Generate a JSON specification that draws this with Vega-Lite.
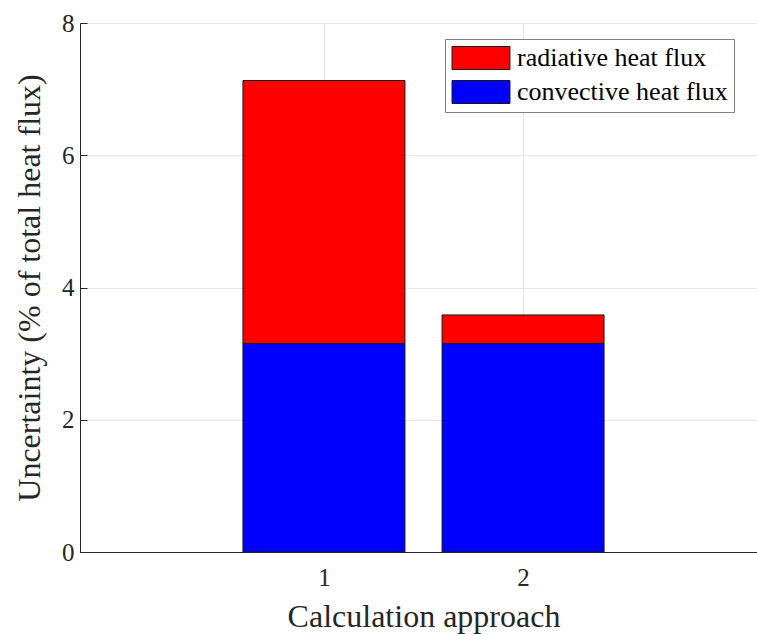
{
  "$schema": "https://vega.github.io/schema/vega-lite/v6.json",
  "autosize": "none",
  "padding": {"left": 80, "top": 23, "right": 0, "bottom": 83},
  "width": 687,
  "height": 529,
  "background": "white",
  "config": {
    "font": "Liberation Serif",
    "view": {"stroke": "#262626", "strokeWidth": 1}
  },
  "data": {
    "values": [
      {"approach": 1, "type": "convective heat flux", "value": 3.155},
      {"approach": 1, "type": "radiative heat flux", "value": 3.975},
      {"approach": 2, "type": "convective heat flux", "value": 3.155},
      {"approach": 2, "type": "radiative heat flux", "value": 0.43}
    ]
  },
  "mark": {"type": "bar", "width": 162, "stroke": "#1a1a1a", "strokeWidth": 1},
  "encoding": {
    "x": {
      "field": "approach",
      "type": "quantitative",
      "scale": {"domain": [-0.2, 3.2], "nice": false, "zero": false},
      "axis": {
        "values": [1, 2],
        "title": "Calculation approach",
        "titleFontSize": 32,
        "titleFontWeight": "normal",
        "titleColor": "#262626",
        "titlePadding": 11,
        "labelFontSize": 25,
        "labelColor": "#262626",
        "labelPadding": 20,
        "tickSize": -7,
        "tickColor": "#262626",
        "domainColor": "#262626",
        "gridColor": "#e6e6e6",
        "grid": true
      }
    },
    "y": {
      "field": "value",
      "type": "quantitative",
      "stack": "zero",
      "scale": {"domain": [0, 8], "nice": false},
      "axis": {
        "values": [0, 2, 4, 6, 8],
        "title": "Uncertainty (% of total heat flux)",
        "titleFontSize": 32,
        "titleFontWeight": "normal",
        "titleColor": "#262626",
        "titlePadding": 15,
        "labelFontSize": 25,
        "labelColor": "#262626",
        "labelPadding": 13,
        "tickSize": -7,
        "tickColor": "#262626",
        "domainColor": "#262626",
        "gridColor": "#e6e6e6",
        "grid": true
      }
    },
    "color": {
      "field": "type",
      "type": "nominal",
      "scale": {"domain": ["radiative heat flux", "convective heat flux"], "range": ["#ff0000", "#0000ff"]},
      "legend": {
        "title": null,
        "orient": "none",
        "legendX": 365,
        "legendY": 16,
        "symbolType": "M-2.52,-1H2.52V1H-2.52Z",
        "symbolSize": 529,
        "symbolOffset": 17,
        "symbolStrokeColor": "#1a1a1a",
        "symbolStrokeWidth": 1,
        "labelFontSize": 26,
        "labelColor": "#000000",
        "labelOffset": 23,
        "labelLimit": 0,
        "rowPadding": 6,
        "padding": 6,
        "strokeColor": "#7f7f7f",
        "fillColor": "white"
      }
    },
    "order": {"field": "type", "sort": "ascending"}
  }
}
